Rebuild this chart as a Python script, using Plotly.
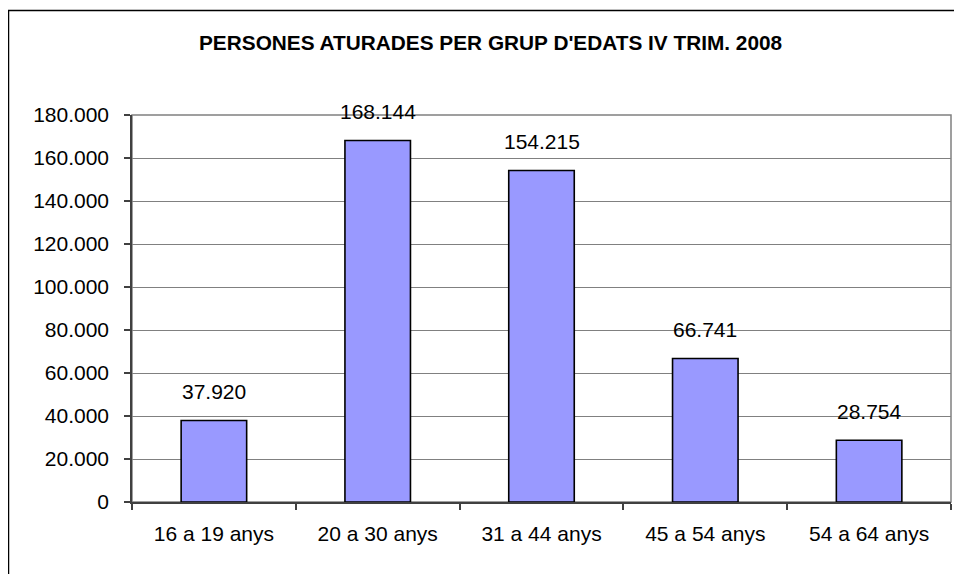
import plotly.graph_objects as go

categories = ["16 a 19 anys", "20 a 30 anys", "31 a 44 anys", "45 a 54 anys", "54 a 64 anys"]
values = [37920, 168144, 154215, 66741, 28754]
title_text = "PERSONES ATURADES PER GRUP D'EDATS IV TRIM. 2008"

# page body has an 8px margin: figure coordinates = screen coordinates - 8
OFF = 8
W, H = 962, 574
L, R, T, B = 132 - OFF, 19, 115 - OFF, 80
pw, ph = W - L - R, H - T - B

FONT = "Liberation Sans, Arial, sans-serif"

def fmt(v):
    return f"{v:,}".replace(",", ".")

fig = go.Figure()
fig.add_trace(go.Bar(
    x=categories, y=values,
    width=0.4,
    marker=dict(color="#9999FF", line=dict(color="#000000", width=1.6)),
    hoverinfo="skip",
))

for c, v in zip(categories, values):
    fig.add_annotation(x=c, y=v, text=fmt(v), showarrow=False,
                       yanchor="middle", yshift=29,
                       font=dict(family=FONT, size=21, color="#000000"))

fig.add_annotation(xref="paper", yref="paper", x=(490 - OFF - L) / pw, y=(H - B - (42 - OFF)) / ph,
                   text=f"<b>{title_text}</b>", showarrow=False,
                   xanchor="center", yanchor="middle",
                   font=dict(family=FONT, size=20.8, color="#000000"))

# plot area border (gray)
fig.add_shape(type="rect", xref="x domain", yref="y domain", x0=0, x1=1, y0=0, y1=1,
              line=dict(color="#808080", width=1.5), layer="below")
# outer chart border
fig.add_shape(type="rect", xref="paper", yref="paper",
              x0=(8.5 - OFF - L) / pw, x1=(961.5 - OFF - L) / pw,
              y0=(H - B - 700) / ph, y1=(H - B - (10.5 - OFF)) / ph,
              line=dict(color="#000000", width=1.5))

fig.update_layout(
    width=W, height=H,
    margin=dict(l=L, r=R, t=T, b=B),
    paper_bgcolor="#FFFFFF", plot_bgcolor="#FFFFFF",
    separators=",.",
    showlegend=False,
    font=dict(family=FONT, size=21, color="#000000"),
    bargap=0.6,
)
fig.update_xaxes(
    type="category",
    showline=True, linecolor="#404040", linewidth=1.5,
    ticks="outside", tickson="boundaries", ticklen=6, tickcolor="#404040", tickwidth=1.5,
    ticklabelstandoff=12,
    showgrid=False, zeroline=False,
    tickfont=dict(family=FONT, size=21, color="#000000"),
)
fig.update_yaxes(
    range=[0, 180000], dtick=20000, tickformat=",d",
    showline=True, linecolor="#404040", linewidth=1.5,
    ticks="outside", ticklen=6, tickcolor="#404040", tickwidth=1.5,
    ticklabelstandoff=11,
    showgrid=True, gridcolor="#808080", gridwidth=1.2,
    zeroline=False,
    tickfont=dict(family=FONT, size=21, color="#000000"),
)

fig.write_html("out.html")
